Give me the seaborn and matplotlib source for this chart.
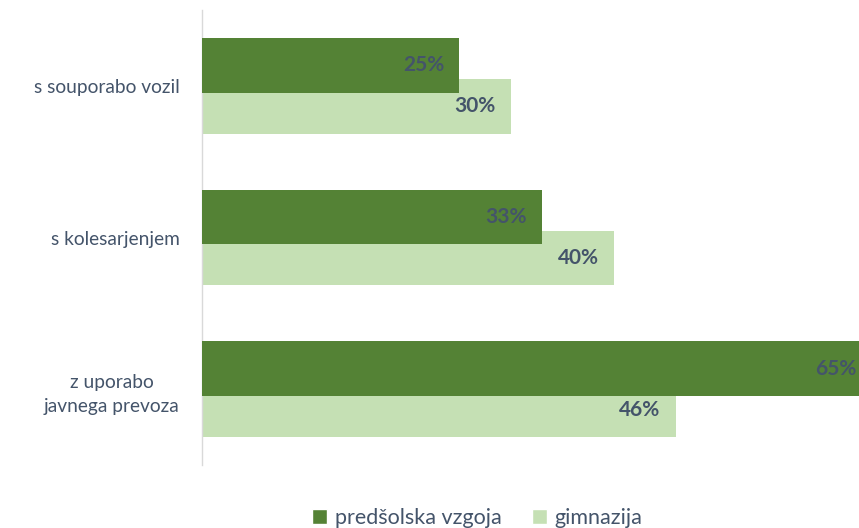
import matplotlib
matplotlib.use("Agg")
import matplotlib.pyplot as plt
import seaborn as sns
import pandas as pd
from matplotlib.patches import Patch

# --- data ---
categories = ["s souporabo vozil", "s kolesarjenjem", "z uporabo\njavnega prevoza"]
series = ["predšolska vzgoja", "gimnazija"]
predsolska = [25, 33, 65]
gimnazija = [30, 40, 46]

DARK = "#548235"
LIGHT = "#C5E0B4"
TXT = "#44546A"

sns.set_theme(style="white")
plt.rcParams["font.family"] = ["Lato", "DejaVu Sans"]

df = pd.DataFrame({
    "cat": categories * 2,
    "val": predsolska + gimnazija,
    "series": [series[0]] * 3 + [series[1]] * 3,
})

fig = plt.figure(figsize=(8.59, 5.28), dpi=100)
ax = fig.add_axes([202 / 859, 1 - 465 / 528, 1 - 202 / 859, 455 / 528])

sns.barplot(data=df, x="val", y="cat", hue="series", orient="h",
            palette=[DARK, LIGHT], width=0.54, dodge=True, ax=ax,
            legend=False, saturation=1, errorbar=None)

# bars overlap a bit like the original (dark over light)
bar_h = 0.362
for c_i, cont in enumerate(ax.containers):
    for p in cont.patches:
        yc = p.get_y() + p.get_height() / 2
        p.set_y(yc - bar_h / 2)
        p.set_height(bar_h)
        p.set_linewidth(0)
        p.set_zorder(3 if c_i == 0 else 2)
    for p, v in zip(cont.patches, cont.datavalues):
        yc = p.get_y() + p.get_height() / 2
        ax.annotate(f"{v:.0f}%", xy=(v, yc), xytext=(-11, 0),
                    textcoords="offset points", ha="right", va="center",
                    fontsize=15, fontweight="bold", color=TXT,
                    zorder=5, annotation_clip=False)

ax.set_xlim(0, 63.8)
ax.set_ylim(2.5, -0.5)
ax.set_xlabel("")
ax.set_ylabel("")
ax.set_xticks([])
ax.tick_params(axis="y", length=0, pad=16, labelsize=13.8, labelcolor=TXT)
for lbl in ax.get_yticklabels():
    lbl.set_multialignment("center")
    lbl.set_linespacing(1.55)
for s in ["top", "right", "bottom"]:
    ax.spines[s].set_visible(False)
ax.spines["left"].set_color("#D9D9D9")
ax.spines["left"].set_linewidth(1)

handles = [Patch(facecolor=DARK, label=series[0]),
           Patch(facecolor=LIGHT, label=series[1])]
fig.legend(handles=handles, loc="center", bbox_to_anchor=(477 / 859, 1 - 518 / 528),
           ncol=2, frameon=False, fontsize=15.5, labelcolor=TXT,
           handlelength=0.7, handleheight=0.7, handletextpad=0.35,
           columnspacing=1.4)

fig.savefig("out.png", dpi=100)
